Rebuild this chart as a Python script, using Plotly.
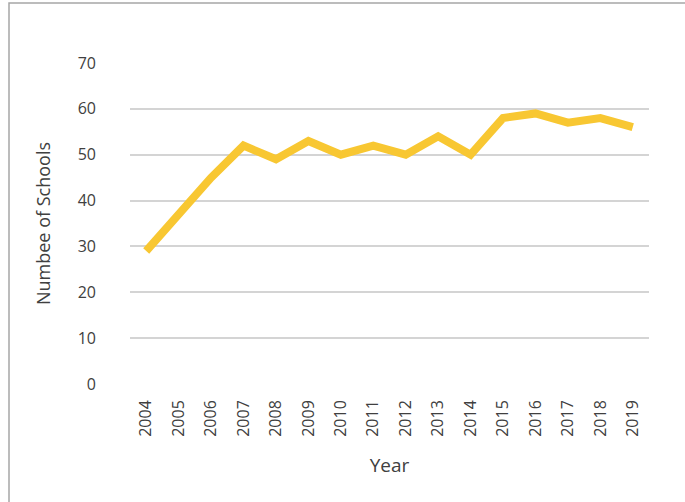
import plotly.graph_objects as go

years = ["2004", "2005", "2006", "2007", "2008", "2009", "2010", "2011",
         "2012", "2013", "2014", "2015", "2016", "2017", "2018", "2019"]
schools = [29, 37, 45, 52, 49, 53, 50, 52, 50, 54, 50, 58, 59, 57, 58, 56]
y_ticks = [0, 10, 20, 30, 40, 50, 60, 70]

W, H = 685, 502
L, R, T, B = 130, 36, 63, 118
pw, ph = W - L - R, H - T - B

def px_x(p):
    return (p - L) / pw

def px_y(p):
    return (H - B - p) / ph

fig = go.Figure()
fig.add_trace(go.Scatter(
    x=years, y=schools, mode="lines",
    line=dict(color="#F8C732", width=8),
    hoverinfo="skip",
))

font_family = "Open Sans, Noto Sans, sans-serif"
fig.update_layout(
    width=W, height=H,
    margin=dict(l=L, r=R, t=T, b=B, autoexpand=False),
    paper_bgcolor="white", plot_bgcolor="white",
    showlegend=False,
    font=dict(family=font_family, color="#404040"),
    xaxis=dict(
        type="category", range=[-0.5, 15.5],
        showgrid=False, showline=False, zeroline=False,
        tickangle=-90, tickfont=dict(size=16, color="#404040"),
        ticklabelstandoff=12,
        title=dict(text="Year", font=dict(size=19, color="#404040"), standoff=22),
    ),
    yaxis=dict(
        range=[0, 70], tickvals=y_ticks,
        showgrid=True, gridcolor="#d4d4d4", gridwidth=1.5,
        zeroline=False, showline=False,
        tickfont=dict(size=16, color="#404040"),
        ticklabelstandoff=33,
        title=dict(text="Numbee of Schools", font=dict(size=18, color="#404040"), standoff=22),
    ),
    shapes=[dict(
        type="rect", xref="paper", yref="paper",
        x0=px_x(9), x1=px_x(700), y0=px_y(3), y1=px_y(510),
        line=dict(color="#a6a6a6", width=1.5), fillcolor="rgba(0,0,0,0)",
        layer="below",
    )],
)

fig.write_html("out.html", config={"displayModeBar": False},
               post_script="document.body.style.margin='0';")
